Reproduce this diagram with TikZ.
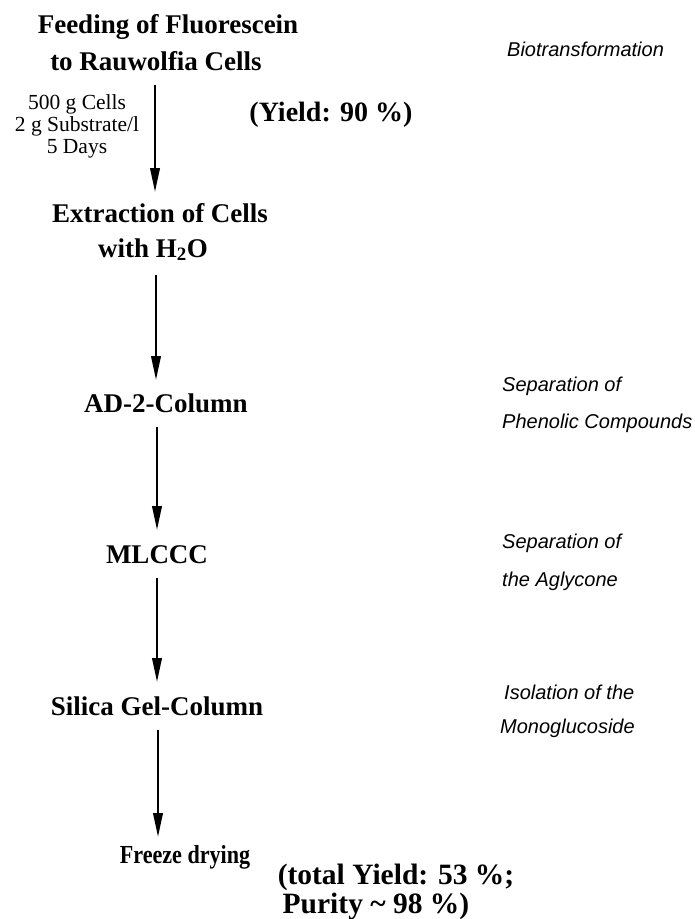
\documentclass[tikz,border=0pt]{standalone}
\usepackage{fontspec}
\usepackage{graphicx}
\setmainfont{Liberation Serif}
\newfontfamily\notefont{Liberation Sans}
\usetikzlibrary{arrows.meta,calc}
\tikzset{
  stage/.style={font=\bfseries\fontsize{27}{32}\selectfont, inner sep=0pt, anchor=base},
  smallstage/.style={font=\bfseries\fontsize{26}{30}\selectfont, inner sep=0pt, anchor=base},
  yieldtxt/.style={font=\bfseries\fontsize{28}{32}\selectfont, inner sep=0pt, anchor=base},
  totaltxt/.style={font=\bfseries\fontsize{29.5}{34}\selectfont, inner sep=0pt, anchor=base},
  cond/.style={font=\fontsize{21.5}{22}\selectfont, inner sep=0pt, align=center, anchor=north},
  note/.style={font=\notefont\itshape\fontsize{20}{23}\selectfont, inner sep=0pt, anchor=base west},
  flow/.style={line width=2.3pt, -{Triangle[length=24pt,width=9.5pt]}}
}
\begin{document}
\begin{tikzpicture}[x=1pt,y=-1pt]
\useasboundingbox[fill=white] (0,0) rectangle (695,919);
% main stages
\node[stage] (feed1) at (168,33) {Feeding of Fluorescein};
\node[stage] (feed2) at (156,70) {to Rauwolfia Cells};
\node[stage] (extr1) at (160,222) {Extraction of Cells};
\node[stage] (extr2) at (153,257) {with H\textsubscript{2}O};
\node[stage] (ad2) at (166,412) {AD-2-Column};
\node[stage] (mlccc) at (157,563) {MLCCC};
\node[stage] (silica) at (157,715) {Silica Gel-Column};
\node[smallstage] (freeze) at (185,863) {\scalebox{0.85}[1]{Freeze drying}};
% yields
\node[yieldtxt] (yield1) at (331,121) {(Yield: 90 \%)};
\node[totaltxt] (yield2a) at (396,884) {(total Yield: 53 \%;};
\node[totaltxt] (yield2b) at (376,913) {Purity \textasciitilde{} 98 \%)};
% conditions
\node[cond] (cond) at (77,94) {500 g Cells\\2 g Substrate/l\\5 Days};
% notes
\node[note] (n1) at (507,56) {Biotransformation};
\node[note] (n2a) at (502,391) {Separation of};
\node[note] (n2b) at (502,428) {Phenolic Compounds};
\node[note] (n3a) at (502,548) {Separation of};
\node[note] (n3b) at (502,586) {the Aglycone};
\node[note] (n4a) at (504,699) {Isolation of the};
\node[note] (n4b) at (500,733) {Monoglucoside};
% arrows
\draw[flow] ($(feed2.base)+(-1,15)$) -- ($(extr1.base)+(-5,-30)$);
\draw[flow] ($(extr2.base)+(3,18)$) -- ($(ad2.base)+(-10,-32)$);
\draw[flow] ($(ad2.base)+(-9,15)$) -- ($(mlccc.base)+(0,-33)$);
\draw[flow] ($(mlccc.base)+(0,15)$) -- ($(silica.base)+(0,-33)$);
\draw[flow] ($(silica.base)+(1,15)$) -- ($(freeze.base)+(-27,-26)$);
\end{tikzpicture}
\end{document}
